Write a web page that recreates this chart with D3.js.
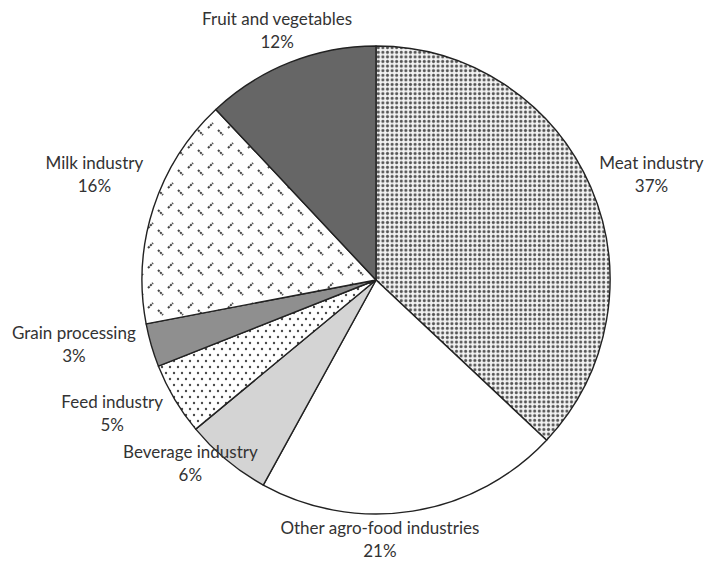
<!DOCTYPE html>
<html>
<head>
<meta charset="utf-8">
<script src="https://cdn.jsdelivr.net/npm/d3@7"></script>
<style>
  html, body { margin: 0; padding: 0; background: #fff; }
  svg { display: block; }
  text { font-family: Lato, "Open Sans", sans-serif; font-size: 17px; fill: #333; }
</style>
</head>
<body>
<svg id="chart" width="707" height="567"></svg>
<script>
// Share of the agro-food sector by industry (%)
const categories = [
  "Meat industry",
  "Other agro-food industries",
  "Beverage industry",
  "Feed industry",
  "Grain processing",
  "Milk industry",
  "Fruit and vegetables"
];
const shares = [37, 21, 6, 5, 3, 16, 12];
const shareLabels = ["37%", "21%", "6%", "5%", "3%", "16%", "12%"];

const fills = ["url(#dots-dense)", "#ffffff", "#d4d4d4", "url(#dots-sparse)", "#8f8f8f", "url(#dashes)", "#666666"];

// Hand adjustments of each label relative to its slice's outer anchor
const labelNudge = [[24, -2], [-39, -17], [-11, -33], [-28, -11], [-39, -17], [-21, -26], [2, 0]];

const svg = d3.select("#chart");
const cx = 376, cy = 280, radius = 234;

// Fill patterns
const defs = svg.append("defs");

const dense = defs.append("pattern").attr("id", "dots-dense")
  .attr("patternUnits", "userSpaceOnUse").attr("width", 4.6).attr("height", 4.6);
dense.append("rect").attr("width", 4.6).attr("height", 4.6).attr("fill", "#f2f2f2");
dense.append("circle").attr("cx", 2.3).attr("cy", 2.3).attr("r", 1.5).attr("fill", "#555");

const sparse = defs.append("pattern").attr("id", "dots-sparse")
  .attr("patternUnits", "userSpaceOnUse").attr("width", 8).attr("height", 12);
sparse.append("rect").attr("width", 8).attr("height", 12).attr("fill", "#fff");
sparse.append("circle").attr("cx", 2).attr("cy", 3).attr("r", 1.2).attr("fill", "#4a4a4a");
sparse.append("circle").attr("cx", 6).attr("cy", 9).attr("r", 1.2).attr("fill", "#4a4a4a");

const dashes = defs.append("pattern").attr("id", "dashes")
  .attr("patternUnits", "userSpaceOnUse").attr("width", 20).attr("height", 20);
dashes.append("rect").attr("width", 20).attr("height", 20).attr("fill", "#fff");
dashes.append("line").attr("x1", 2).attr("y1", 10).attr("x2", 7).attr("y2", 15)
  .attr("stroke", "#444").attr("stroke-width", 2).attr("stroke-dasharray", "2.2 0.8");
dashes.append("line").attr("x1", 12).attr("y1", 8).attr("x2", 17).attr("y2", 3)
  .attr("stroke", "#444").attr("stroke-width", 2).attr("stroke-dasharray", "2.2 0.8");

// Pie layout keeps the given order, clockwise from 12 o'clock
const pie = d3.pie().sort(null).value(d => d)(shares);
const arc = d3.arc().innerRadius(0).outerRadius(radius);
const labelArc = d3.arc().innerRadius(radius + 40).outerRadius(radius + 40);

const g = svg.append("g").attr("transform", `translate(${cx},${cy})`);

g.selectAll("path.slice")
  .data(pie)
  .join("path")
  .attr("class", "slice")
  .attr("d", arc)
  .attr("fill", (d, i) => fills[i])
  .attr("stroke", "#222")
  .attr("stroke-width", 1.4)
  .attr("stroke-linejoin", "round");

// Two-line labels: category name, then its share
const lineGap = 23;
const labels = g.selectAll("g.label")
  .data(pie)
  .join("g")
  .attr("class", "label")
  .attr("transform", (d, i) => {
    const [x, y] = labelArc.centroid(d);
    return `translate(${x + labelNudge[i][0]},${y + labelNudge[i][1]})`;
  });

labels.append("text").attr("text-anchor", "middle").attr("y", 0).text((d, i) => categories[i]);
labels.append("text").attr("text-anchor", "middle").attr("y", lineGap).text((d, i) => shareLabels[i]);
</script>
</body>
</html>
